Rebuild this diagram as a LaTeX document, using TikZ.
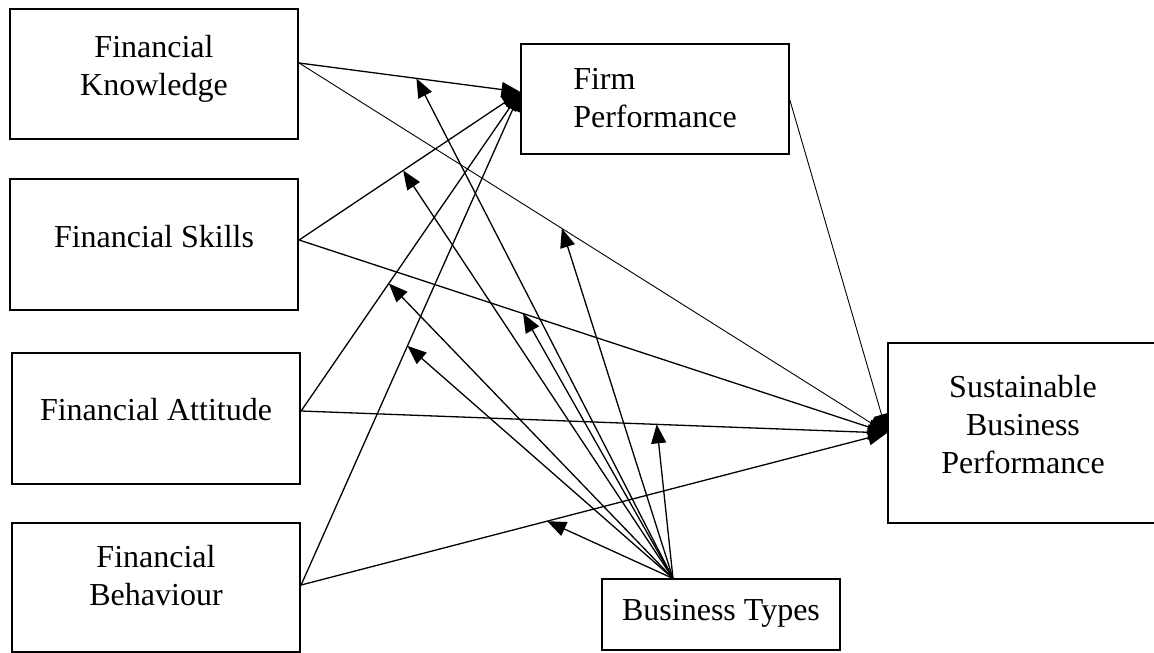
\documentclass[tikz,border=0pt]{standalone}
\usepackage{fontspec}
\setmainfont{Liberation Serif}
\usetikzlibrary{arrows.meta}
\newcommand{\boxtxt}[3][c]{\raisebox{#2}[0pt][0pt]{\begin{tabular}{@{}#1@{}}#3\end{tabular}}}
\begin{document}
\begin{tikzpicture}[x=1pt,y=-1pt,font=\fontsize{32}{38}\selectfont,>={Triangle[length=19pt,width=15pt]},
	bigbox/.style={draw,line width=2.2pt,inner sep=0pt},
	smallbox/.style={draw,line width=1.1pt,inner sep=0pt},
	link/.style={->,line width=1.3pt}]
	\useasboundingbox (0,0) rectangle (1154,653);
	% boxes
	\node[bigbox,minimum width=288,minimum height=130] (fk) at (154,74) {\boxtxt{-1.4pt}{Financial\\Knowledge}};
	\node[bigbox,minimum width=288,minimum height=131] (fs) at (154,244.5) {\boxtxt{-1.9pt}{Financial Skills}};
	\node[bigbox,minimum width=288,minimum height=131] (fa) at (156,418.5) {\boxtxt{-0.9pt}{Financial Attitude}};
	\node[bigbox,minimum width=288,minimum height=129] (fb) at (156,587.5) {\boxtxt{2pt}{Financial\\Behaviour}};
	\node[smallbox,minimum width=268,minimum height=110] (fp) at (655,99) {\boxtxt[l]{-8.4pt}{Firm\\Performance}\hspace{65pt}};
	\node[bigbox,minimum width=270,minimum height=180] (sbp) at (1023,433) {\boxtxt{-1.4pt}{Sustainable\\Business\\Performance}};
	\node[smallbox,minimum width=238,minimum height=71] (bt) at (721,614.5) {\boxtxt{-4.9pt}{Business Types}};
	\path
	([yshift=11pt]fk.east) coordinate (fkout)
	([yshift=4.5pt]fs.east) coordinate (fsout)
	([yshift=7.5pt]fa.east) coordinate (faout)
	([yshift=2.5pt]fb.east) coordinate (fbout)
	([yshift=7pt]fp.west) coordinate (fpin)
	([xshift=-48pt]bt.north) coordinate (btout)
	;
	% direct paths
	\draw[link] (fkout) -- coordinate[pos=.53] (m1) (fpin);
	\draw[link] (fsout) -- coordinate[pos=.47] (m2) (fpin);
	\draw[link] (faout) -- coordinate[pos=.40] (m4) (fpin);
	\draw[link] (fbout) -- coordinate[pos=.485] (m6) (fpin);
	\draw[link,line width=.9pt] (fkout) -- coordinate[pos=.447] (m3) (sbp.west);
	\draw[link] (fsout) -- coordinate[pos=.381] (m5) (sbp.west);
	\draw[link] (faout) -- coordinate[pos=.607] (m7) (sbp.west);
	\draw[link] (fbout) -- coordinate[pos=.42] (m8) (sbp.west);
	\draw[link,line width=.9pt] (fp.east) -- (sbp.west);
	% moderating arrows
	\foreach \m in {1,...,8}\draw[link] (btout) -- (m\m);
\end{tikzpicture}
\end{document}
